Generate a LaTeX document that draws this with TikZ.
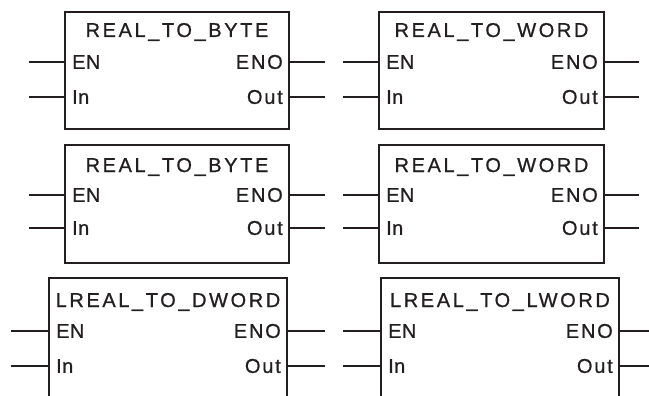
\documentclass[tikz,border=0pt]{standalone}
\usepackage{fontspec}
\newfontfamily\ttlfont{Liberation Sans}[LetterSpace=13, FakeBold=0.8]
\newfontfamily\pinlfont{Liberation Sans}[LetterSpace=2, FakeBold=0.8]
\newfontfamily\pinrfont{Liberation Sans}[LetterSpace=9, FakeBold=0.8]
\definecolor{ink}{HTML}{231F20}
\tikzset{
  fbox/.style={inner sep=0pt, outer sep=0pt},
  wire/.style={draw=ink, line width=1.3pt},
  ttl/.style={anchor=base, inner sep=0pt, text=ink, font=\ttlfont\fontsize{20}{24}\selectfont},
  pinl/.style={anchor=west, inner sep=0pt, text=ink, font=\pinlfont\fontsize{20}{24}\selectfont},
  pinr/.style={anchor=east, inner sep=0pt, text=ink, font=\pinrfont\fontsize{20}{24}\selectfont}
}
% #1 name, #2 left, #3 right, #4 top, #5 bottom, #6 title, #7 title baseline, #8 EN y, #9 In y
\newcommand\fblk[9]{%
  \node[fbox, anchor=north west, minimum width={(#3-#2)*1pt}, minimum height={(#5-#4)*1pt}] (#1) at (#2pt,-#4pt) {};
  \path[wire] (#1.south west) -- (#1.north west) -- (#1.north east) -- (#1.south east) \boxclose;
  \node[ttl] (#1-t) at ({(#2+#3)/2*1pt},-#7pt) {#6};
  \node[pinl] (#1-en) at ({(#2+7)*1pt},-#8pt) {EN};
  \node[pinl] (#1-in) at ({(#2+7)*1pt},-#9pt) {In};
  \node[pinr] (#1-eno) at ({(#3-6)*1pt},-#8pt) {ENO};
  \node[pinr] (#1-out) at ({(#3-6)*1pt},-#9pt) {Out};
  \coordinate (#1-enA) at (\stubL pt,-#8pt);
  \coordinate (#1-inA) at (\stubL pt,-#9pt);
  \coordinate (#1-enoA) at (\stubR pt,-#8pt);
  \coordinate (#1-outA) at (\stubR pt,-#9pt);
  \draw[wire] (#1-enA) -- (#1.west |- #1-enA);
  \draw[wire] (#1-inA) -- (#1.west |- #1-inA);
  \draw[wire] (#1.east |- #1-enoA) -- (#1-enoA);
  \draw[wire] (#1.east |- #1-outA) -- (#1-outA);
}
\begin{document}
\begin{tikzpicture}
\useasboundingbox (0,0) rectangle (649pt,-396pt);
\def\boxclose{-- cycle}
\def\stubL{29}\def\stubR{325}
\fblk{b1}{65}{289}{12}{129}{REAL\_TO\_BYTE}{37}{62}{97}
\fblk{b3}{65}{289}{145}{263}{REAL\_TO\_BYTE}{172}{195}{228}
\def\stubL{343}\def\stubR{639}
\fblk{b2}{379}{604}{12}{129}{REAL\_TO\_WORD}{37}{62}{97}
\fblk{b4}{379}{604}{145}{263}{REAL\_TO\_WORD}{172}{195}{228}
\def\boxclose{}
\def\stubL{11}\def\stubR{325}
\fblk{b5}{49}{287}{278}{396}{LREAL\_TO\_DWORD}{307}{331}{366}
\def\stubL{343}\def\stubR{649}
\fblk{b6}{381}{619}{278}{396}{LREAL\_TO\_LWORD}{307}{331}{366}
\end{tikzpicture}
\end{document}
